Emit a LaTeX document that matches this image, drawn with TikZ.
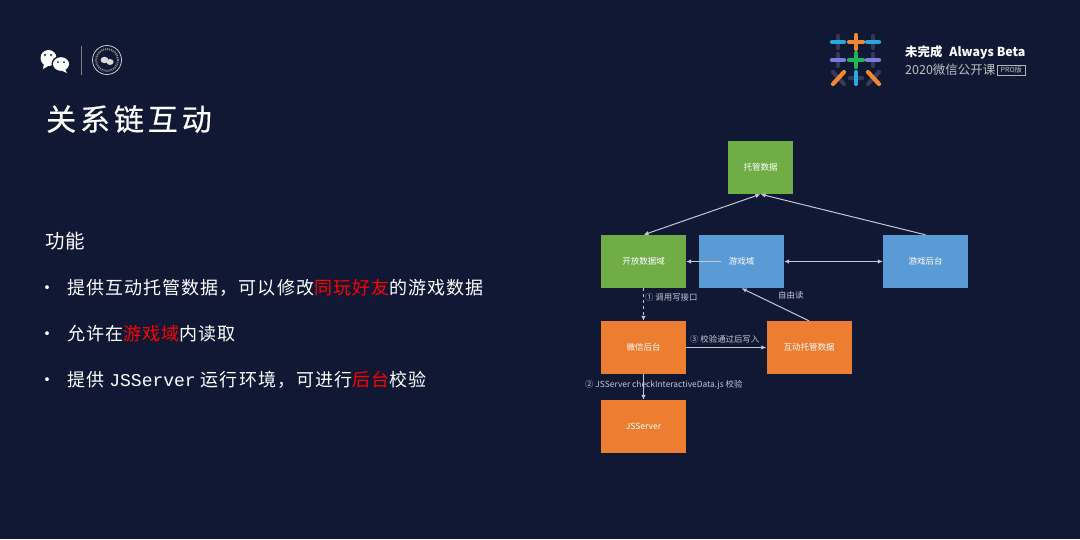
\documentclass[tikz,border=0pt]{standalone}
\usepackage{fontspec}
\usetikzlibrary{arrows.meta}
\setmainfont{Noto Sans CJK SC}
\setmonofont{Liberation Mono}
\newfontfamily\titlefont[LetterSpace=13,FakeBold=0.5]{Noto Sans CJK SC}
\newfontfamily\bodyfont[LetterSpace=6]{Noto Sans CJK SC}
\definecolor{slidebg}{RGB}{16,24,52}
\definecolor{boxgreen}{RGB}{112,173,71}
\definecolor{boxblue}{RGB}{91,155,213}
\definecolor{boxorange}{RGB}{237,125,49}
\definecolor{linkgray}{RGB}{196,200,212}
\definecolor{logoblue}{RGB}{41,168,224}
\definecolor{logoorange}{RGB}{240,135,50}
\definecolor{logopurple}{RGB}{124,122,224}
\definecolor{logogreen}{RGB}{30,180,90}
\definecolor{logofaint}{RGB}{52,58,84}
\tikzset{
    x=1pt, y=-1pt,
    >={Latex[length=5pt,width=4.5pt]},
    databox/.style={minimum width=85pt, minimum height=53pt, inner sep=0pt, text=white, font=\fontsize{8.5}{10}\selectfont},
    link/.style={draw=linkgray, line width=1pt, ->},
    twolink/.style={draw=linkgray, line width=1pt, <->},
    linktext/.style={text=linkgray, inner sep=0pt, anchor=west, font=\fontsize{8.4}{10}\selectfont},
    bodytext/.style={text=white, inner sep=0pt, anchor=west, font=\fontsize{18}{22}\bodyfont},
    bullettext/.style={text=white, inner sep=0pt, font=\fontsize{18}{20}\selectfont},
    logostroke/.style={line width=4.2pt, line cap=round},
    logoback/.style={line width=4.2pt, line cap=round, draw=logofaint},
}
\begin{document}
\begin{tikzpicture}
    \useasboundingbox[fill=slidebg] (0,0) rectangle (1080,539);

    \fill[white] (48.5,58) ellipse (8pt and 8pt);
    \fill[white] (44,63) -- (43,69) -- (50,65) -- cycle;
    \fill[slidebg] (61,64) ellipse (9.5pt and 8.2pt);
    \fill[white] (61,64) ellipse (8pt and 6.8pt);
    \fill[white] (65,69) -- (67,73) -- (60,70) -- cycle;
    \fill[slidebg] (45,55) circle (1.2pt) (51,55) circle (1.2pt) (58,62) circle (1pt) (64,62) circle (1pt);
    \draw[gray, line width=0.7pt] (81,46) -- (81,75);
    \draw[white!80!black, line width=0.8pt] (107,60) circle (14.5pt);
    \draw[white!55!black, line width=2pt, dash pattern=on 1pt off 1pt] (107,60) circle (11pt);
    \fill[white!85!black] (104.5,60) ellipse (4pt and 3.2pt) (110,62) ellipse (3.6pt and 3pt);

    \foreach \px/\py in {838/42, 873/42, 838/60, 873/60} {
        \draw[logoback] (\px,\py-6) -- (\px,\py+6);
    }
    \draw[logoback] (850,78) -- (862,78);
    \draw[logoback] (833,72) -- (844,84);
    \draw[logoback] (879,72) -- (868,84);
    \draw[logostroke, logoblue] (832,42) -- (844,42);
    \draw[logostroke, logoblue] (867,42) -- (879,42);
    \draw[logostroke, logoorange] (849,42) -- (863,42);
    \draw[logostroke, logoorange] (856,35) -- (856,49);
    \draw[logostroke, logopurple] (832,60) -- (844,60);
    \draw[logostroke, logopurple] (867,60) -- (879,60);
    \draw[logostroke, logogreen] (849,60) -- (863,60);
    \draw[logostroke, logogreen] (856,53) -- (856,67);
    \draw[logostroke, logoorange] (833,84) -- (844,72);
    \draw[logostroke, logoblue] (856,72) -- (856,84);
    \draw[logostroke, logoorange] (868,72) -- (879,84);

    \node (logoname) [anchor=west, inner sep=0pt, text=white, font=\fontsize{12.4}{15}\selectfont\bfseries] at (905,52.5) {未完成\hspace{7pt}Always Beta};
    \node (logocourse) [anchor=west, inner sep=0pt, text=white!75!black, font=\fontsize{12.5}{15}\selectfont] at (905,70) {2020微信公开课};
    \node (logopro) [draw=white!70!black, line width=0.5pt, anchor=west, inner sep=0pt, minimum width=28pt, minimum height=10pt, text=white!75!black, font=\fontsize{7}{8}\selectfont] at (997,70) {PRO版};

    \node (title) [anchor=west, inner sep=0pt, text=white, font=\fontsize{30}{36}\titlefont] at (46,119) {关系链互动};
    \node (feature) [bodytext, font=\fontsize{19.5}{22}\bodyfont] at (45,241) {功能};
    \node (bulletone) [bullettext] at (47,290) {•};
    \node (bullettwo) [bullettext] at (47,336) {•};
    \node (bulletthree) [bullettext] at (47,382) {•};
    \node (lineone) [bodytext] at (67,288) {提供互动托管数据，可以修改\textcolor{red}{同玩好友}的游戏数据};
    \node (linetwo) [bodytext] at (67,334) {允许在\textcolor{red}{游戏域}内读取};
    \node (linethree) [bodytext] at (67,380) {提供 {\ttfamily JSServer} 运行环境，可进行\textcolor{red}{后台}校验};

    \node (hosted) [databox, fill=boxgreen, minimum width=65pt] at (760.5,167.5) {托管数据};
    \node (opendomain) [databox, fill=boxgreen] at (643.5,261.5) {开放数据域};
    \node (gamedomain) [databox, fill=boxblue] at (741.5,261.5) {游戏域};
    \node (gameserver) [databox, fill=boxblue] at (925.5,261.5) {游戏后台};
    \node (wxserver) [databox, fill=boxorange] at (643.5,347.5) {微信后台};
    \node (interdata) [databox, fill=boxorange] at (809,347.5) {互动托管数据};
    \node (jsserver) [databox, fill=boxorange] at (643.5,426.5) {JSServer};

    \draw[twolink] (opendomain.north) -- (hosted.south);
    \draw[link] (gameserver.north) -- (hosted.south);
    \draw[link] ([xshift=22pt]gamedomain.west) -- (opendomain.east);
    \draw[twolink] (gamedomain.east) -- (gameserver.west);
    \draw[link, dashed] (opendomain.south) -- (wxserver.north);
    \draw[link] (wxserver.east) -- (interdata.west);
    \draw[link] (interdata.north) -- (gamedomain.south);
    \draw[link] (wxserver.south) -- (jsserver.north);

    \node (writelabel) [linktext] at (645,297) {① 调用写接口};
    \node (readlabel) [linktext] at (778,295) {自由读};
    \node (passlabel) [linktext] at (690,339) {③ 校验通过后写入};
    \node (checklabel) [linktext] at (585,384.5) {② JSServer checkInteractiveData.js 校验};
\end{tikzpicture}
\end{document}
